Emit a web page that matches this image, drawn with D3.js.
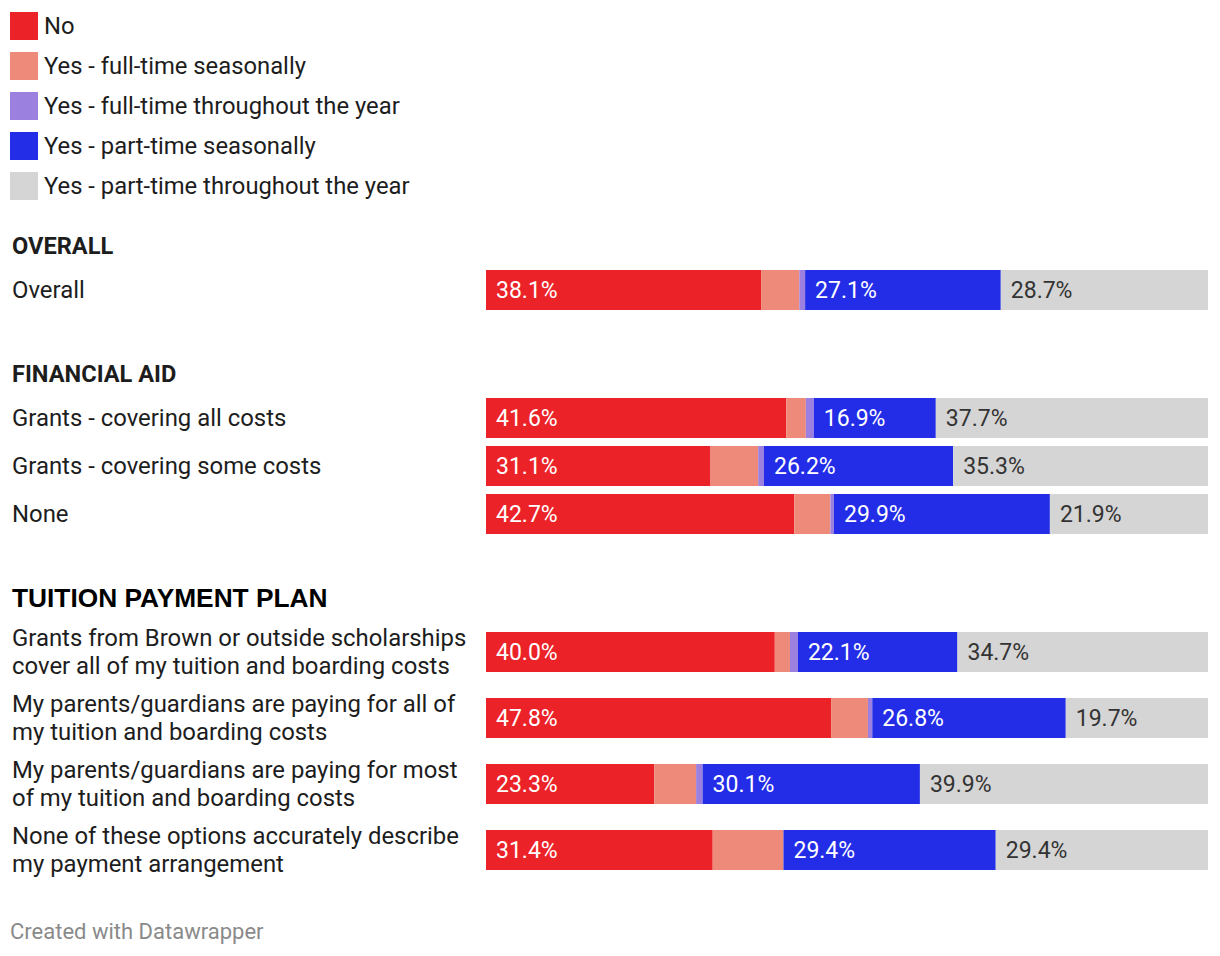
<!DOCTYPE html>
<html><head><meta charset="utf-8">
<script src="https://cdn.jsdelivr.net/npm/d3@7"></script>
<style>
html,body{margin:0;padding:0;background:#fff;}
svg{display:block;font-family:Roboto,"Noto Sans",sans-serif;}
</style></head><body>
<svg id="chart" width="1220" height="956"></svg>
<script>
const seriesNames = ["No","Yes - full-time seasonally","Yes - full-time throughout the year","Yes - part-time seasonally","Yes - part-time throughout the year"];
const seriesColors = ["#ec2229","#ee8a7a","#9b80df","#232de8","#d5d5d5"];

const groups = ["OVERALL","FINANCIAL AID","TUITION PAYMENT PLAN"];

const rowGroup = [0,1,1,1,2,2,2,2];
const rowLabels = [
  ["Overall"],
  ["Grants - covering all costs"],
  ["Grants - covering some costs"],
  ["None"],
  ["Grants from Brown or outside scholarships","cover all of my tuition and boarding costs"],
  ["My parents/guardians are paying for all of","my tuition and boarding costs"],
  ["My parents/guardians are paying for most","of my tuition and boarding costs"],
  ["None of these options accurately describe","my payment arrangement"]
];
const noValues      = [38.1,41.6,31.1,42.7,40.0,47.8,23.3,31.4];
const ftSeasonal    = [5.3, 2.7, 6.6, 5.0, 2.1, 5.1, 5.8, 9.8];
const ftYear        = [0.8, 1.1, 0.8, 0.5, 1.1, 0.6, 0.9, 0.0];
const ptSeasonal    = [27.1,16.9,26.2,29.9,22.1,26.8,30.1,29.4];
const ptYear        = [28.7,37.7,35.3,21.9,34.7,19.7,39.9,29.4];

const keys = ["s0","s1","s2","s3","s4"];
const table = rowLabels.map((l,i)=>({
  i, s0:noValues[i], s1:ftSeasonal[i], s2:ftYear[i], s3:ptSeasonal[i], s4:ptYear[i]
}));

const svg = d3.select("#chart");
const textColor = "#1d1d1d";

// Legend
const legend = svg.append("g");
seriesNames.forEach((n,k)=>{
  const g = legend.append("g").attr("transform",`translate(10,${12+k*40})`);
  g.append("rect").attr("width",28).attr("height",28).attr("fill",seriesColors[k]);
  g.append("text").attr("x",34).attr("y",14).attr("dy","0.35em")
    .attr("font-size",23.8).attr("fill",textColor).text(n);
});

// Layout
const x = d3.scaleLinear().domain([0,100]).range([486,1208]);
const barH = 40;
const headerY = [245.5,373.5,597.5];
const rowTop = [270,398,446,494,632,698,764,830];

// Group headers
groups.forEach((g,gi)=>{
  const t = svg.append("text").attr("x",12).attr("y",headerY[gi]).attr("dy","0.36em")
    .attr("fill",gi===2?"#000":textColor).text(g);
  if(gi===2){ t.attr("font-family","'Liberation Sans',Arial,sans-serif").attr("font-weight","bold").attr("font-size",26.3).attr("x",12); }
  else { t.attr("font-weight","bold").attr("font-size",23.6); }
});

// Row labels
rowLabels.forEach((lines,i)=>{
  const cy = rowTop[i]+barH/2;
  const n = lines.length;
  lines.forEach((ln,j)=>{
    svg.append("text").attr("x",12).attr("y",cy+(j-(n-1)/2)*28).attr("dy","0.35em")
      .attr("font-size",23.9).attr("fill",textColor).text(ln);
  });
});

// Bars
const stacked = d3.stack().keys(keys)(table);
stacked.forEach((layer,k)=>{
  const g = svg.append("g");
  g.selectAll("rect").data(layer).join("rect")
    .attr("x",d=>x(d[0])).attr("width",d=>Math.max(0,x(d[1])-x(d[0])))
    .attr("y",(d,i)=>rowTop[i]).attr("height",barH)
    .attr("fill",seriesColors[k]);
  g.selectAll("text").data(layer.filter(d=>d[1]-d[0]>=10)).join("text")
    .attr("x",d=>x(d[0])+10).attr("y",d=>rowTop[d.data.i]+barH/2).attr("dy","0.36em")
    .attr("font-size",23).attr("fill",k===4?"#333":"#fff")
    .text(d=>(d[1]-d[0]).toFixed(1)+"%");
});

// Footer
svg.append("text").attr("x",10).attr("y",931).attr("dy","0.36em")
  .attr("font-size",22).attr("fill","#8a8a8a").text("Created with Datawrapper");
</script>
</body></html>
